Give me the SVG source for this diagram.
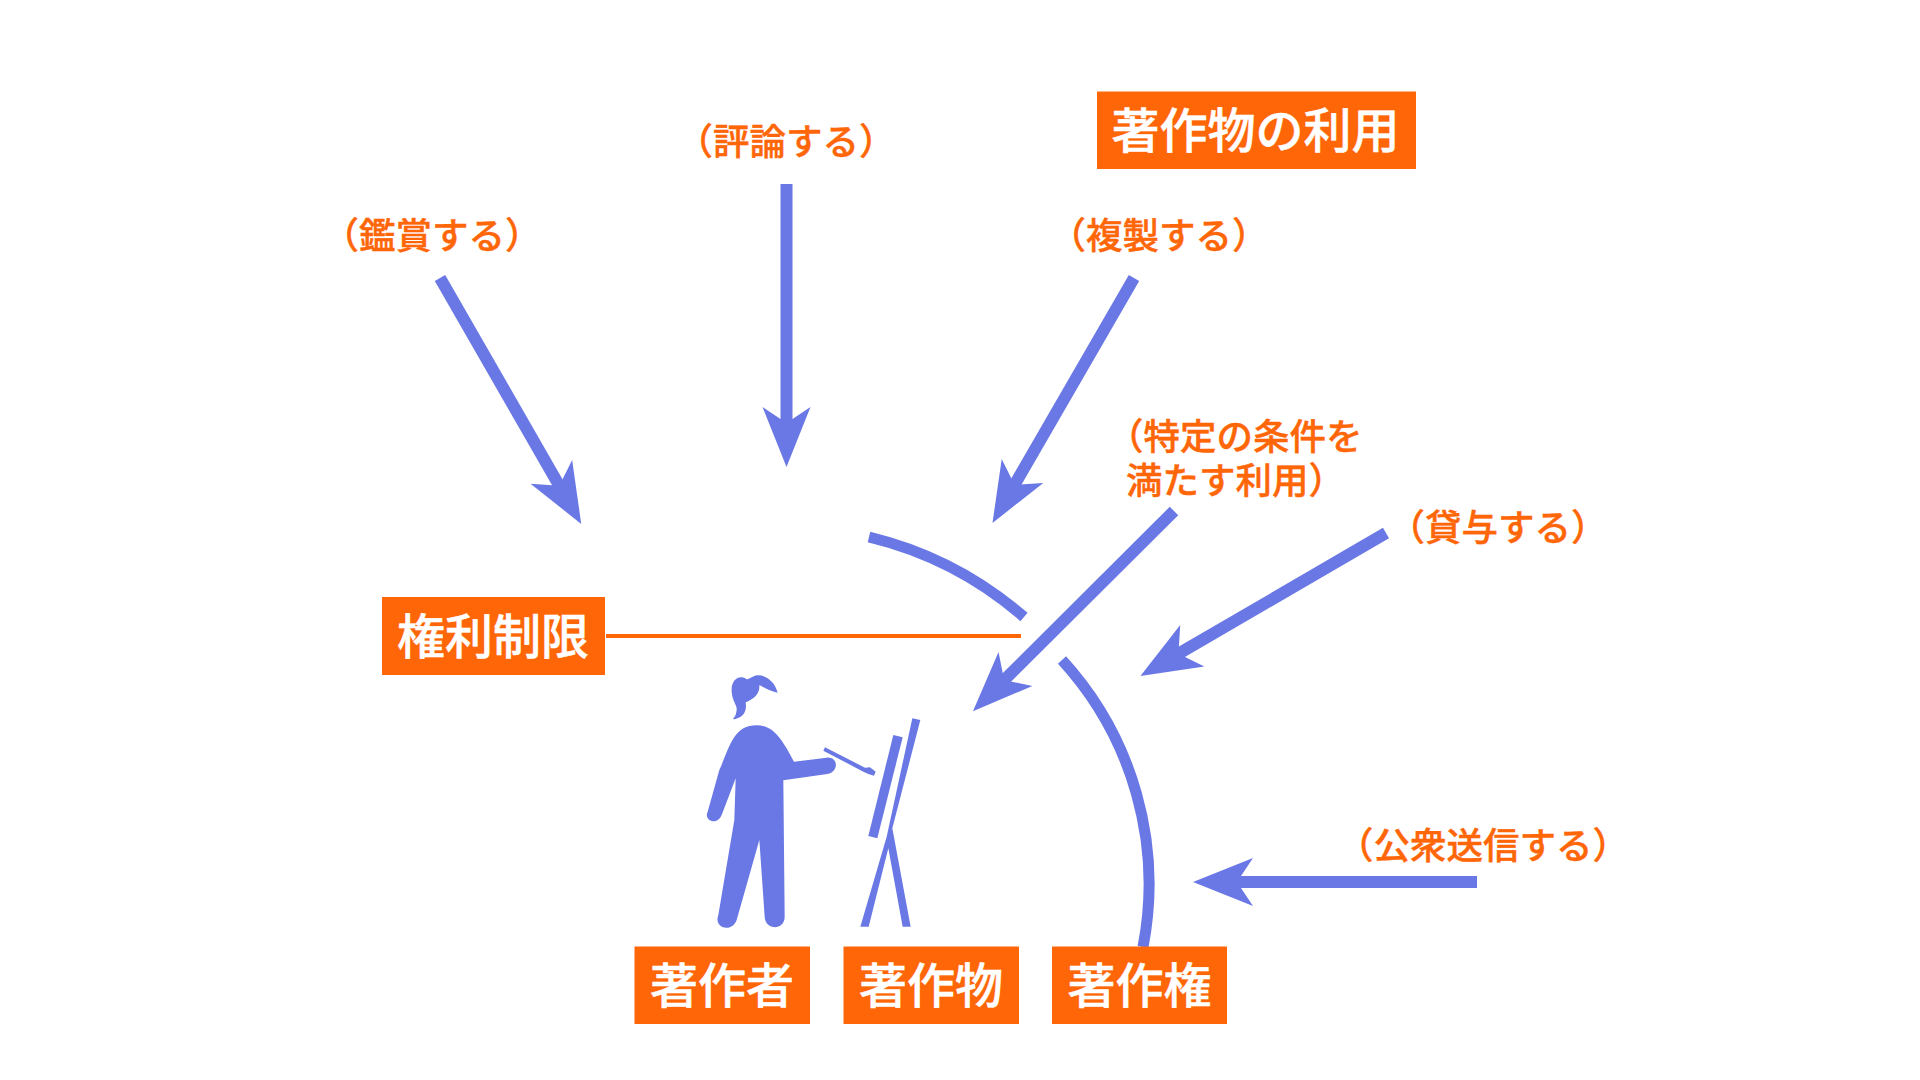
<svg xmlns="http://www.w3.org/2000/svg" width="1920" height="1080" viewBox="0 0 1920 1080">
<style>
text{font-family:"Noto Sans CJK JP","Noto Sans CJK SC",sans-serif;font-weight:500}
.box{fill:#ff6608}
.t{fill:#fff;font-size:48px;text-anchor:middle;stroke:#fff;stroke-width:.5}
.l{fill:#ff6608;font-size:36.5px;stroke:#ff6608;stroke-width:.4}
.ar{stroke:#6a78e5;stroke-width:12;fill:none;marker-end:url(#h)}
.arc{stroke:#6a78e5;stroke-width:11;fill:none}
.fig{fill:#6a78e5}
</style>
<defs><marker id="h" markerUnits="userSpaceOnUse" viewBox="0 -30 60 60" markerWidth="60" markerHeight="60" refX="20" refY="0" orient="auto"><polygon points="0,-24 60,0 0,24 16,0" fill="#6a78e5"/></marker></defs>
<rect width="1920" height="1080" fill="#fff"/>
<g id="connectors">
<line class="ar" x1="440" y1="278" x2="561.3" y2="489.2"/>
<line class="ar" x1="786.5" y1="184" x2="786.5" y2="427"/>
<line class="ar" x1="1134" y1="278" x2="1012.5" y2="488.3"/>
<line class="ar" x1="1174" y1="511" x2="1001.3" y2="683"/>
<line class="ar" x1="1386" y1="533" x2="1175" y2="655.8"/>
<line class="ar" x1="1477" y1="882" x2="1233" y2="882"/>
<path class="arc" d="M869,537 A368,368 0 0 1 1024,617"/>
<path class="arc" d="M1062,660 A332,332 0 0 1 1143,947"/>
<line x1="606" y1="636" x2="1021" y2="636" stroke="#ff6608" stroke-width="4"/>
</g>
<g id="n-title"><rect class="box" x="1097" y="91.500" width="319" height="77.500"/><text class="t" x="1255.500" y="148">著作物の利用</text></g>
<g id="n-seigen"><rect class="box" x="382" y="597" width="223" height="78"/><text class="t" x="493" y="654">権利制限</text></g>
<g id="n-author"><rect class="box" x="634.500" y="946.500" width="175.500" height="77.500"/><text class="t" x="722" y="1003">著作者</text></g>
<g id="n-work"><rect class="box" x="843.500" y="946.500" width="175.500" height="77.500"/><text class="t" x="931" y="1003">著作物</text></g>
<g id="n-right"><rect class="box" x="1052" y="946.500" width="175" height="77.500"/><text class="t" x="1139.500" y="1003">著作権</text></g>
<g id="n-l1"><text class="l" x="432" y="249" text-anchor="middle">（鑑賞する）</text></g>
<g id="n-l2"><text class="l" x="786" y="155" text-anchor="middle">（評論する）</text></g>
<g id="n-l3"><text class="l" x="1159" y="249" text-anchor="middle">（複製する）</text></g>
<g id="n-l4"><text class="l"><tspan x="1107" y="450">（特定の条件を</tspan><tspan x="1126" y="494">満たす利用）</tspan></text></g>
<g id="n-l5"><text class="l" x="1498" y="541" text-anchor="middle">（貸与する）</text></g>
<g id="n-l6"><text class="l" x="1483" y="859" text-anchor="middle">（公衆送信する）</text></g>
<g id="n-figure" class="fig" transform="translate(680 660) scale(.33333)">
<path d="M230,196C275,196 300,225 342,305L440,293C475,290 478,335 442,342L310,361L314,770C314,812 256,812 254,770L238,540L170,780C155,820 100,805 115,765L163,480L167,355L125,465C110,500 70,480 83,455L118,330C150,260 160,196 230,196Z"/>
<path d="M158,178C185,175 202,160 197,127C225,115 240,100 238,75C255,85 270,93 293,98C285,65 255,40 225,47C212,52 205,58 200,58C178,42 152,60 155,95C157,125 172,135 170,150C168,165 165,170 158,178Z"/>
<polygon points="435,262 555,323 570,322 587,335 582,347 565,342 550,335 430,272"/>
<polygon points="640,225 668,232 592,535 565,528"/>
<polygon points="697,175 721,180 637,505 692,800 668,800 625,565 566,800 541,800 620,530"/>
</g>
</svg>
